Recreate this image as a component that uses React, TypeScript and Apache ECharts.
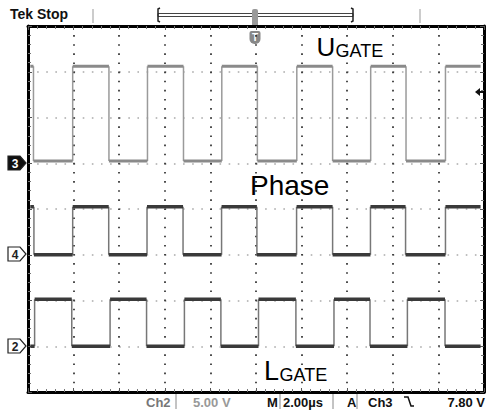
import React, { useEffect, useRef } from "react";
import * as echarts from "echarts";

// Time axis: 2.00 µs/div, 10 divisions; vertical axis in divisions (8)
const timeMin = 0;
const timeMax = 20;
const timeInterval = 2;
const divMin = 0;
const divMax = 8;

// Trace extent (µs)
const traceStart = 0.1;
const traceEnd = 19.85;

// Edge times (µs)
const ugateEdges = [0.24, 1.96, 3.55, 5.24, 6.82, 8.5, 10.06, 11.79, 13.36, 15.03, 16.58, 18.31];
const ugateStartsHigh = true;
const ugateLow = 5.05;
const ugateHigh = 7.12;

const phaseEdges = [0.26, 1.96, 3.54, 5.22, 6.8, 8.49, 10.04, 11.78, 13.36, 15.02, 16.56, 18.31];
const phaseStartsHigh = true;
const phaseLow = 3.0;
const phaseHigh = 4.05;

const lgateEdges = [0.29, 1.92, 3.6, 5.2, 6.86, 8.46, 10.11, 11.75, 13.42, 15.0, 16.64, 18.29];
const lgateStartsHigh = false;
const lgateLow = 1.0;
const lgateHigh = 2.03;

function buildTrace(edges: number[], startHigh: boolean, low: number, high: number) {
  const levels: any[] = [];
  const risers: any[] = [];
  let state = startHigh;
  let t = traceStart;
  for (const e of edges) {
    const v = state ? high : low;
    levels.push([t, v], [e, v], [e, "-"]);
    risers.push([e, low], [e, high], [e, "-"]);
    state = !state;
    t = e;
  }
  const v = state ? high : low;
  levels.push([t, v], [traceEnd, v]);
  return { levels, risers };
}

const FONT = "'Liberation Sans', Arial, sans-serif";

export default function App() {
  const ref = useRef<HTMLDivElement>(null);
  useEffect(() => {
    if (!ref.current) return;
    const chart = echarts.init(ref.current, undefined, { renderer: "svg" });
    const ug = buildTrace(ugateEdges, ugateStartsHigh, ugateLow, ugateHigh);
    const ph = buildTrace(phaseEdges, phaseStartsHigh, phaseLow, phaseHigh);
    const lg = buildTrace(lgateEdges, lgateStartsHigh, lgateLow, lgateHigh);

    const axisCommon = (pos: string) => ({
      type: "value",
      position: pos,
      axisLine: { show: true, onZero: false, lineStyle: { color: "#000", width: 3 } },
      axisTick: { show: true, inside: true, length: 4, lineStyle: { color: "#555", width: 1 } },
      minorTick: { show: true, splitNumber: 5, length: 3, lineStyle: { color: "#777", width: 1 } },
      axisLabel: { show: false },
      minorSplitLine: { show: false },
    });

    const levelSeries = (name: string, data: any[], color: string, width: number) => ({
      name,
      type: "line",
      data,
      showSymbol: false,
      symbol: "none",
      connectNulls: false,
      lineStyle: { color, width },
      z: 5,
      silent: true,
    });

    const text = (x: number, y: number, t: string, size: number, color: string, weight = "normal", align = "left") => ({
      type: "text",
      x,
      y,
      silent: true,
      style: {
        text: t,
        fill: color,
        font: `${weight} ${size}px ${FONT}`,
        align,
        verticalAlign: "middle",
      },
    });

    const chMarker = (y: number, label: string, filled: boolean) => ({
      type: "group",
      children: [
        {
          type: "polygon",
          shape: { points: [[8, y - 7], [20, y - 7], [26, y], [20, y + 7], [8, y + 7]] },
          style: { fill: filled ? "#111" : "#fff", stroke: "#222", lineWidth: 1.2 },
        },
        {
          type: "text",
          x: 15,
          y: y + 0.5,
          style: { text: label, fill: filled ? "#fff" : "#222", font: `bold 12px ${FONT}`, align: "center", verticalAlign: "middle" },
        },
      ],
    });

    chart.setOption({
      animation: false,
      backgroundColor: "#fff",
      grid: { left: 28, top: 26, width: 456, height: 366, containLabel: false },
      xAxis: [
        {
          ...axisCommon("bottom"),
          min: timeMin,
          max: timeMax,
          interval: timeInterval,
          splitLine: { show: true, lineStyle: { color: "#222", width: 1.6, type: [1.6, 7.52] } },
        },
        { ...axisCommon("top"), min: timeMin, max: timeMax, interval: timeInterval, splitLine: { show: false } },
      ],
      yAxis: [
        {
          ...axisCommon("left"),
          min: divMin,
          max: divMax,
          interval: 1,
          splitLine: { show: true, lineStyle: { color: "#aaa", width: 1.6, type: [1.6, 7.52] } },
        },
        { ...axisCommon("right"), min: divMin, max: divMax, interval: 1, splitLine: { show: false } },
      ],
      series: [
        levelSeries("UGATE edges", ug.risers, "#9a9a9a", 1.5),
        levelSeries("UGATE", ug.levels, "#8a8a8a", 3),
        levelSeries("Phase edges", ph.risers, "#777", 1.5),
        levelSeries("Phase", ph.levels, "#3a3a3a", 3.5),
        levelSeries("LGATE edges", lg.risers, "#777", 1.5),
        levelSeries("LGATE", lg.levels, "#3a3a3a", 3.5),
      ],
      graphic: [
        // header
        text(10, 14, "Tek Stop", 14, "#111", "bold"),
        { type: "line", shape: { x1: 93, y1: 9, x2: 93, y2: 23 }, style: { stroke: "#ccc", lineWidth: 2 } },
        { type: "line", shape: { x1: 420, y1: 9, x2: 420, y2: 23 }, style: { stroke: "#ccc", lineWidth: 2 } },
        { type: "rect", shape: { x: 158, y: 13.5, width: 195, height: 3 }, style: { fill: "#fff", stroke: "#444", lineWidth: 1 } },
        { type: "polyline", shape: { points: [[160, 8], [158, 9], [158, 21], [160, 22]] }, style: { stroke: "#222", lineWidth: 1.5, fill: "none" } },
        { type: "polyline", shape: { points: [[351, 8], [353, 9], [353, 21], [351, 22]] }, style: { stroke: "#222", lineWidth: 1.5, fill: "none" } },
        { type: "rect", shape: { x: 252, y: 9, width: 6, height: 18, r: 2 }, style: { fill: "#999" } },
        // trigger position marker
        {
          type: "group",
          children: [
            { type: "rect", shape: { x: 249.5, y: 31, width: 11, height: 13, r: [2, 2, 5, 5] }, style: { fill: "#888" } },
            { type: "text", x: 255, y: 37.5, style: { text: "T", fill: "#fff", font: `bold 10px ${FONT}`, align: "center", verticalAlign: "middle" } },
          ],
        },
        // channel ground markers
        chMarker(163, "3", true),
        chMarker(254, "4", false),
        chMarker(346, "2", false),
        // trigger level arrow (right)
        { type: "polygon", shape: { points: [[475, 92], [480, 88], [480, 96]] }, style: { fill: "#111" } },
        { type: "line", shape: { x1: 479, y1: 92, x2: 484, y2: 92 }, style: { stroke: "#111", lineWidth: 2 } },
        // trace labels
        text(316.5, 47, "U", 26, "#000"),
        text(335.5, 51, "GATE", 18, "#000"),
        text(250, 185.5, "Phase", 28, "#000"),
        text(264, 371, "L", 27, "#000"),
        text(279.5, 375, "GATE", 18, "#000"),
        // status bar
        text(146, 402, "Ch2", 13, "#777", "bold"),
        { type: "line", shape: { x1: 176, y1: 394, x2: 176, y2: 409 }, style: { stroke: "#888", lineWidth: 1 } },
        text(193, 402, "5.00 V", 13, "#999", "bold"),
        text(267, 402, "M", 13, "#111", "bold"),
        { type: "line", shape: { x1: 280, y1: 394, x2: 280, y2: 409 }, style: { stroke: "#888", lineWidth: 1 } },
        text(283, 402, "2.00µs", 13, "#111", "bold"),
        { type: "line", shape: { x1: 333, y1: 394, x2: 333, y2: 409 }, style: { stroke: "#888", lineWidth: 1 } },
        text(347, 402, "A", 13, "#111", "bold"),
        { type: "line", shape: { x1: 357, y1: 394, x2: 357, y2: 409 }, style: { stroke: "#888", lineWidth: 1 } },
        text(368, 402, "Ch3", 13, "#111", "bold"),
        { type: "polyline", shape: { points: [[404, 397], [408, 397], [411, 406], [414, 406]] }, style: { stroke: "#111", lineWidth: 1.5, fill: "none" } },
        text(485, 402, "7.80 V", 13, "#111", "bold", "right"),
      ],
    });
    return () => chart.dispose();
  }, []);
  return <div ref={ref} style={{ width: 486, height: 410, position: "absolute", left: 0, top: 0 }} />;
}
